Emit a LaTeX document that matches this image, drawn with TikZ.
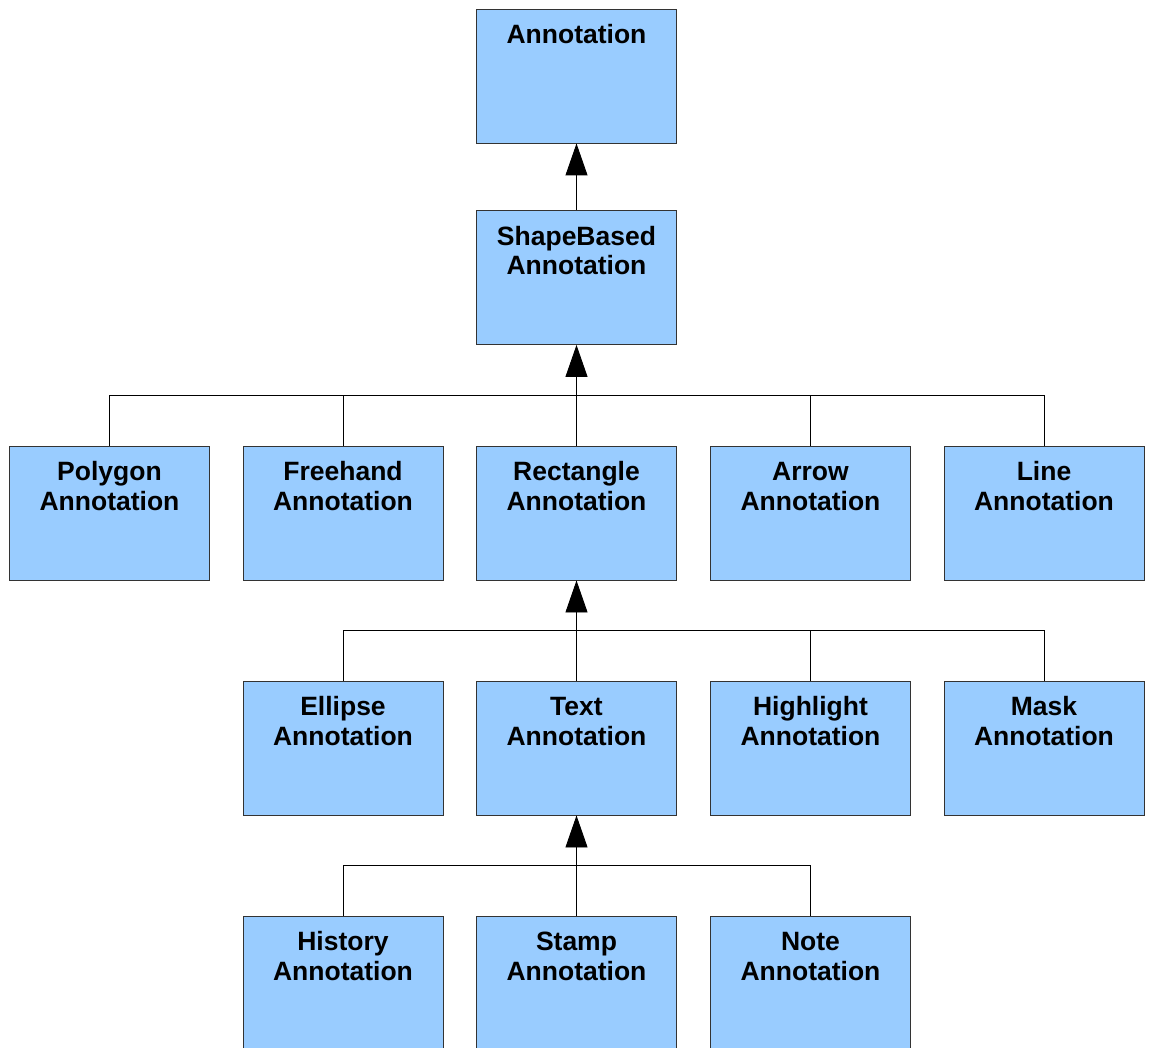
\documentclass[tikz,border=0pt]{standalone}
\usepackage{fontspec}
\setmainfont{Liberation Sans}
\usetikzlibrary{arrows.meta}
\definecolor{boxblue}{HTML}{99CCFF}
\definecolor{boxline}{HTML}{333333}
\tikzset{
  box/.style={draw=boxline, fill=boxblue, line width=0.9pt, minimum width=200pt,
    minimum height=134pt, inner sep=0pt,
    label={[lbl]north:#1}},
  onebox/.style={draw=boxline, fill=boxblue, line width=0.9pt, minimum width=200pt,
    minimum height=134pt, inner sep=0pt,
    label={[lbl, text height=19pt]north:#1}},
  lbl/.style={anchor=north, yshift=-16pt, inner sep=0pt, align=center, text height=48.5pt,
    font=\bfseries\fontsize{26.5}{29.5}\selectfont},
  conn/.style={draw=black, line width=0.9pt},
  inherit/.style={conn, -{Triangle[length=32pt,width=22pt]}},
}
\begin{document}
\begin{tikzpicture}[x=1pt,y=-1pt]
\path[use as bounding box] (0,0) rectangle (1149,1048);
\clip (0,0) rectangle (1149,1048);
% row 1-2
\node[onebox={Annotation}] (annot) at (576.5,76) {};
\node[box={ShapeBased\\Annotation}] (shape) at (576.5,277.5) {};
% row 3
\node[box={Polygon\\Annotation}] (poly) at (109.5,513) {};
\node[box={Freehand\\Annotation}] (free) at (343,513) {};
\node[box={Rectangle\\Annotation}] (rect) at (576.5,513) {};
\node[box={Arrow\\Annotation}] (arrow) at (810.5,513) {};
\node[box={Line\\Annotation}] (line) at (1044,513) {};
% row 4
\node[box={Ellipse\\Annotation}] (ell) at (343,748) {};
\node[box={Text\\Annotation}] (text) at (576.5,748) {};
\node[box={Highlight\\Annotation}] (high) at (810.5,748) {};
\node[box={Mask\\Annotation}] (mask) at (1044,748) {};
% row 5
\node[box={History\\Annotation}] (hist) at (343,983) {};
\node[box={Stamp\\Annotation}] (stamp) at (576.5,983) {};
\node[box={Note\\Annotation}] (note) at (810.5,983) {};
% bars
\coordinate (bar3) at (576.5,395.5);
\coordinate (bar4) at (576.5,630.5);
\coordinate (bar5) at (576.5,865.5);
% connectors
\draw[inherit] (shape.north) -- (annot.south);
\draw[conn] (poly.north) |- (bar3) -| (line.north);
\draw[conn] (free.north) |- (bar3) -| (arrow.north);
\draw[inherit] (rect.north) -- (shape.south);
\draw[conn] (ell.north) |- (bar4) -| (mask.north);
\draw[conn] (high.north) |- (bar4);
\draw[inherit] (text.north) -- (rect.south);
\draw[conn] (hist.north) |- (bar5) -| (note.north);
\draw[inherit] (stamp.north) -- (text.south);
\end{tikzpicture}
\end{document}
